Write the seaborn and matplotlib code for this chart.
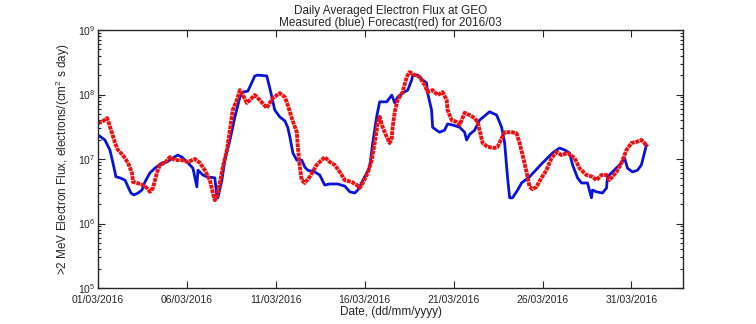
import numpy as np
import pandas as pd
import matplotlib
matplotlib.use("Agg")
import matplotlib.pyplot as plt
from matplotlib.ticker import LogLocator, LogFormatterMathtext, NullFormatter
import seaborn as sns

# ---- data (day offset from 01/03/2016 00:00, flux) ----
measured_day = [0.0, 0.39, 0.67, 0.84, 1.01, 1.24, 1.52, 1.69, 1.85, 2.02, 2.25, 2.47, 2.64, 2.92,
                3.20, 3.60, 3.88, 4.21, 4.49, 4.72, 5.06, 5.34, 5.56, 5.62, 5.90, 6.12, 6.57, 6.69,
                6.74, 6.97, 7.13, 7.42, 7.70, 7.98, 8.15, 8.43, 8.82, 8.99, 9.49, 9.66, 9.78, 9.94,
                10.22, 10.51, 10.67, 10.79, 10.96, 11.18, 11.46, 11.63, 11.80, 12.19, 12.47, 12.75,
                13.03, 13.48, 13.88, 14.16, 14.44, 14.61, 15.00, 15.28, 15.45, 15.67, 15.84, 16.24,
                16.52, 16.69, 16.85, 17.13, 17.42, 17.64, 17.70, 17.98, 18.26, 18.48, 18.54, 18.76,
                18.82, 19.04, 19.21, 19.49, 19.66, 19.94, 20.34, 20.62, 20.73, 20.90, 21.18, 21.46,
                22.02, 22.42, 22.70, 22.87, 23.03, 23.15, 23.31, 23.60, 23.82, 24.27, 25.00, 25.56,
                25.96, 26.24, 26.52, 26.69, 26.97, 27.19, 27.53, 27.75, 27.81, 28.03, 28.37, 28.60,
                28.65, 28.93, 29.44, 29.61, 29.78, 30.06, 30.34, 30.56, 30.73, 30.84]
measured_flux = [2.36e7, 1.97e7, 1.38e7, 8.7e6, 5.3e6, 5.1e6, 4.7e6, 3.7e6, 2.97e6, 2.77e6, 2.97e6,
                 3.3e6, 4.4e6, 6.1e6, 7.2e6, 8.7e6, 9.0e6, 1.04e7, 1.15e7, 1.07e7, 8.7e6, 7.2e6,
                 3.7e6, 6.7e6, 5.65e6, 5.3e6, 5.1e6, 2.58e6, 2.5e6, 4.7e6, 9.6e6, 1.97e7, 4.5e7,
                 9.1e7, 1.09e8, 1.13e8, 1.94e8, 2.0e8, 1.94e8, 1.26e8, 9.1e7, 5.75e7, 4.5e7, 3.9e7,
                 3.1e7, 2.2e7, 1.24e7, 9.6e6, 9.6e6, 7.5e6, 6.7e6, 6.3e6, 5.65e6, 3.95e6, 4.1e6,
                 4.1e6, 3.8e6, 3.1e6, 2.97e6, 3.3e6, 5.3e6, 7.5e6, 1.77e7, 4.5e7, 7.7e7, 7.7e7,
                 9.8e7, 7.4e7, 9.1e7, 1.05e8, 1.17e8, 1.68e8, 2.0e8, 2.0e8, 1.68e8, 1.51e8, 1.05e8,
                 5.75e7, 3.1e7, 2.8e7, 2.6e7, 2.8e7, 3.5e7, 3.37e7, 3.1e7, 2.6e7, 1.97e7, 2.4e7,
                 2.8e7, 4.0e7, 5.4e7, 4.8e7, 3.1e7, 1.77e7, 5.3e6, 2.5e6, 2.5e6, 3.3e6, 4.25e6,
                 5.3e6, 8.7e6, 1.24e7, 1.48e7, 1.38e7, 1.24e7, 8.1e6, 5.1e6, 4.25e6, 4.25e6, 2.5e6,
                 3.3e6, 3.1e6, 2.97e6, 3.55e6, 5.3e6, 6.3e6, 8.7e6, 1.04e7, 7.2e6, 6.3e6, 6.7e6,
                 8.1e6, 1.24e7, 1.65e7]

forecast_day = [0.0, 0.22, 0.51, 0.56, 0.79, 0.96, 1.12, 1.40, 1.69, 1.91, 1.97, 2.19, 2.53, 2.75,
                2.92, 3.09, 3.31, 3.48, 3.76, 4.04, 4.33, 4.72, 5.06, 5.45, 5.73, 6.01, 6.29, 6.46,
                6.57, 6.69, 6.85, 7.02, 7.25, 7.42, 7.58, 7.81, 7.98, 8.15, 8.37, 8.54, 8.82, 9.10,
                9.49, 9.83, 10.22, 10.51, 10.67, 10.90, 11.18, 11.24, 11.35, 11.46, 11.63, 11.91,
                12.30, 12.58, 12.75, 13.03, 13.31, 13.60, 13.88, 14.27, 14.55, 14.72, 14.89, 15.17,
                15.39, 15.56, 15.73, 15.84, 16.01, 16.24, 16.40, 16.52, 16.57, 16.69, 16.85, 17.13,
                17.36, 17.53, 17.81, 18.09, 18.37, 18.54, 18.82, 19.10, 19.38, 19.61, 19.66, 19.89,
                20.17, 20.34, 20.62, 20.90, 21.18, 21.35, 21.63, 21.91, 22.30, 22.47, 22.70, 22.87,
                23.31, 23.54, 23.71, 23.88, 24.10, 24.27, 24.44, 24.66, 24.94, 25.22, 25.51, 25.79,
                26.07, 26.40, 26.80, 27.08, 27.47, 27.81, 28.03, 28.31, 28.60, 28.76, 29.16, 29.44,
                29.72, 30.00, 30.28, 30.56, 30.73, 30.90]
forecast_flux = [3.6e7, 3.75e7, 4.3e7, 4.0e7, 2.5e7, 1.77e7, 1.38e7, 1.15e7, 8.7e6, 6.1e6, 4.4e6,
                 4.25e6, 3.95e6, 3.55e6, 3.1e6, 3.55e6, 6.1e6, 8.1e6, 8.7e6, 1.07e7, 9.6e6, 9.6e6,
                 9.0e6, 1.0e7, 8.7e6, 6.7e6, 4.7e6, 2.97e6, 2.3e6, 2.58e6, 4.25e6, 7.5e6, 1.38e7,
                 2.8e7, 5.75e7, 8.2e7, 1.17e8, 9.8e7, 7.4e7, 8.2e7, 9.8e7, 8.2e7, 6.2e7, 8.8e7,
                 1.05e8, 9.1e7, 6.9e7, 4.3e7, 2.6e7, 1.54e7, 7.5e6, 4.7e6, 4.25e6, 5.3e6, 8.1e6,
                 9.6e6, 1.07e7, 9.0e6, 8.1e6, 6.3e6, 4.7e6, 4.4e6, 3.95e6, 3.55e6, 4.25e6, 6.1e6,
                 9.6e6, 1.77e7, 3.6e7, 4.5e7, 3.1e7, 2.2e7, 1.77e7, 2.1e7, 3.1e7, 5.4e7, 8.2e7,
                 1.09e8, 1.87e8, 2.23e8, 2.0e8, 1.87e8, 1.40e8, 1.09e8, 1.17e8, 9.8e7, 1.09e8,
                 8.2e7, 5.75e7, 4.0e7, 3.75e7, 3.37e7, 5.2e7, 4.8e7, 4.3e7, 3.75e7, 1.77e7, 1.54e7,
                 1.48e7, 1.54e7, 2.1e7, 2.6e7, 2.6e7, 2.5e7, 1.77e7, 1.15e7, 6.3e6, 3.7e6, 3.4e6,
                 3.7e6, 5.1e6, 6.7e6, 1.04e7, 1.28e7, 1.15e7, 1.24e7, 1.04e7, 7.2e6, 5.65e6, 5.3e6,
                 4.7e6, 5.65e6, 5.65e6, 4.7e6, 6.3e6, 8.7e6, 1.38e7, 1.77e7, 1.84e7, 1.97e7,
                 1.77e7, 1.54e7]

tick_labels = ["01/03/2016", "06/03/2016", "11/03/2016", "16/03/2016",
               "21/03/2016", "26/03/2016", "31/03/2016"]

start = pd.Timestamp("2016-03-01")
df_m = pd.DataFrame({"date": start + pd.to_timedelta(measured_day, unit="D"),
                     "flux": measured_flux})
df_f = pd.DataFrame({"date": start + pd.to_timedelta(forecast_day, unit="D"),
                     "flux": forecast_flux})

sns.set_style("ticks")
plt.rcParams["font.family"] = ["Liberation Sans", "DejaVu Sans"]
plt.rcParams["mathtext.fontset"] = "custom"
plt.rcParams["mathtext.rm"] = "Liberation Sans"
plt.rcParams["mathtext.it"] = "Liberation Sans:italic"

fig = plt.figure(figsize=(7.56, 3.24), dpi=100)
ax = fig.add_axes([98/756, 1-288/324, (683-98)/756, (288-30)/324])

sns.lineplot(data=df_m, x="date", y="flux", ax=ax, color="#0a14d6", lw=2.0,
             estimator=None, sort=False)
sns.lineplot(data=df_f, x="date", y="flux", ax=ax, color="#ee1111", lw=2.8,
             estimator=None, sort=False, linestyle=(0, (1.0, 0.2)))

ax.set_yscale("log")
ax.set_ylim(1e5, 1e9)
ax.set_xlim(start, start + pd.Timedelta(days=32.9))

tick_dates = [pd.Timestamp(f"2016-{lab[3:5]}-{lab[0:2]}") for lab in tick_labels]
ax.set_xticks(tick_dates)
ax.set_xticklabels(tick_labels)
ax.yaxis.set_major_locator(LogLocator(base=10, numticks=10))
ax.yaxis.set_minor_locator(LogLocator(base=10, subs=np.arange(2, 10), numticks=20))
ax.yaxis.set_major_formatter(LogFormatterMathtext())
ax.yaxis.set_minor_formatter(NullFormatter())

ax.tick_params(which="both", direction="in", top=True, right=True, labelsize=7.5, width=0.8)
ax.tick_params(which="major", length=5)
ax.tick_params(which="minor", length=2.5)
ax.tick_params(axis="x", pad=5)
ax.tick_params(axis="y", pad=2)
for s in ax.spines.values():
    s.set_linewidth(1.0)
    s.set_visible(True)

ax.set_xlabel("Date, (dd/mm/yyyy)", fontsize=8.5, labelpad=1)
ax.set_ylabel(r">2 MeV Electron Flux, electrons/(cm$^2$ s day)", fontsize=8.5, labelpad=4)
ax.set_title("Daily Averaged Electron Flux at GEO\nMeasured (blue) Forecast(red) for 2016/03",
             fontsize=8.5, pad=3, linespacing=1.0)

fig.savefig("out.png", dpi=100)
